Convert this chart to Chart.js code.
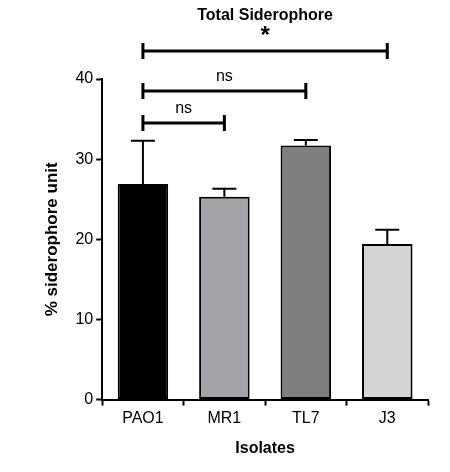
<!DOCTYPE html>
<html><head><script src="https://cdn.jsdelivr.net/npm/chart.js"></script>
<style>body{margin:0;background:#fff}#w{width:450px;height:472px}</style></head>
<body><div id="w"><canvas id="c"></canvas></div>
<script>
const categories=["PAO1","MR1","TL7","J3"];
const means=[26.9,25.3,31.7,19.4];
const errs=[5.4,1.0,0.7,1.8];
const colors=["#000000","#a3a3a8","#7f7f7f","#d4d4d4"];
const brackets=[{a:0,b:1,y:34.5,t:"ns"},{a:0,b:2,y:38.5,t:"ns"},{a:0,b:3,y:43.5,t:"*"}];
const yTicks=[0,10,20,30,40];
const F="Liberation Sans, Arial, sans-serif";
const extra={id:"extra",afterDatasetsDraw(ch){
 const c=ch.ctx,x=ch.scales.x,y=ch.scales.y;
 c.save();c.strokeStyle="#000";c.lineWidth=2;c.fillStyle="#000";
 means.forEach((m,i)=>{const cx=x.getPixelForValue(i),t=y.getPixelForValue(m+errs[i]),b=y.getPixelForValue(m);
  c.beginPath();c.moveTo(cx,b);c.lineTo(cx,t);c.moveTo(cx-12,t);c.lineTo(cx+12,t);c.stroke();});
 c.lineWidth=3;
 brackets.forEach(k=>{const xa=x.getPixelForValue(k.a),xb=x.getPixelForValue(k.b),py=y.getPixelForValue(k.y);
  c.beginPath();c.moveTo(xa,py);c.lineTo(xb,py);c.moveTo(xa,py-8);c.lineTo(xa,py+8);c.moveTo(xb,py-8);c.lineTo(xb,py+8);c.stroke();
  c.textAlign="center";c.textBaseline="bottom";
  if(k.t==="*"){c.font="bold 24px "+F;c.fillText(k.t,(xa+xb)/2,py-3);}else{c.font="16px "+F;c.fillText(k.t,(xa+xb)/2,py-6);}
 });
 c.font="bold 16px "+F;c.textAlign="center";c.textBaseline="top";c.fillText("Total Siderophore",(ch.chartArea.left+ch.chartArea.right)/2,8);
 c.restore();}};
new Chart(document.getElementById("c"),{type:"bar",
 data:{labels:categories,datasets:[{data:means,backgroundColor:colors,borderColor:"#000",borderWidth:2,borderSkipped:false,barPercentage:0.62,categoryPercentage:1}]},
 options:{responsive:true,maintainAspectRatio:false,animation:false,
  layout:{padding:{top:79,right:22,left:38,bottom:10}},
  plugins:{legend:{display:false},tooltip:{enabled:false}},
  scales:{
   x:{grid:{display:true,drawOnChartArea:false,drawTicks:true,tickLength:6,tickColor:"#000",tickWidth:2},border:{color:"#000",width:2},ticks:{color:"#000",font:{family:F,size:16}},
      title:{display:true,text:"Isolates",color:"#000",font:{family:F,size:16,weight:"bold"},padding:{top:8}}},
   y:{min:0,max:40,afterBuildTicks(s){s.ticks=yTicks.map(v=>({value:v}));},grid:{display:true,drawOnChartArea:false,drawTicks:true,tickLength:6,tickColor:"#000",tickWidth:2},border:{color:"#000",width:2},
      ticks:{color:"#000",font:{family:F,size:16}},
      title:{display:true,text:"% siderophore unit",color:"#000",font:{family:F,size:17,weight:"bold"},padding:{bottom:10}}}}},
 plugins:[extra]});
</script></body></html>
